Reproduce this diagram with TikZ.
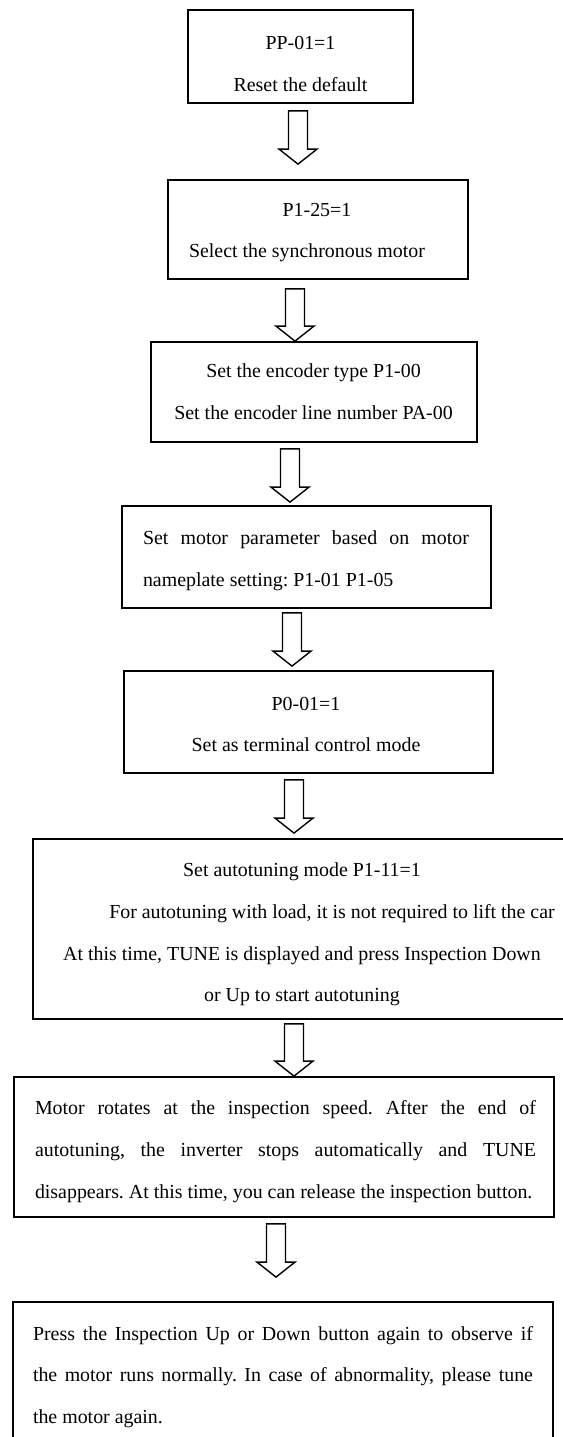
\documentclass[tikz,border=0pt]{standalone}
\usepackage{fontspec}
\setmainfont{Liberation Serif}
\usetikzlibrary{calc,fit}
\frenchspacing
\tolerance=9999
\hyphenpenalty=10000
\tikzset {
  x=0.5pt, y=-0.5pt,
  box/.style={draw, line width=0.9pt, inner sep=0pt},
  txt/.style={inner sep=0pt, font=\fontsize{9.95}{20.85}\selectfont},
  hollow/.style={draw, line width=0.7pt, line join=miter},
}
\newcommand{\blockdown}[5]{%
  \draw[hollow] ($(#1 |- #2.south)+(-9.5,#4)$) -- ($(#1 |- #3.north)+(-9.5,-15-#5)$)
    -- ++(-9.5,0) -- ($(#1 |- #3.north)+(0,-#5)$) -- ++(19,-15) -- ++(-9.5,0)
    -- ($(#1 |- #2.south)+(9.5,#4)$) -- cycle;}

\begin{document}
\begin{tikzpicture}
          \useasboundingbox (0,0) rectangle (563,1437);
          \coordinate (a1) at (298,0);
          \coordinate (a2) at (295,0);
          \coordinate (a3) at (290,0);
          \coordinate (a4) at (292,0);
          \coordinate (a5) at (294,0);
          \coordinate (a6) at (294,0);
          \coordinate (a7) at (276,0);
          \node[box, fit={(188,10) (413,103)}] (b1) {};
          \node[box, fit={(168,180) (468,279)}] (b2) {};
          \node[box, fit={(151,342) (477,442)}] (b3) {};
          \node[box, fit={(122,506) (491,608)}] (b4) {};
          \node[box, fit={(124,671) (493,773)}] (b5) {};
          \node[box, fit={(33,839) (564,1019)}] (b6) {};
          \node[box, fit={(14,1077) (554,1217)}] (b7) {};
          \node[box, fit={(13,1302) (553,1439)}] (b8) {};
          \node[txt, align=center] (t1) at (300.5,64) {PP-01=1\\Reset the default};
          \node[txt, align=center] (t2) at (317,232.5) {P1-25=1\\Select the synchronous motor\hspace*{10pt}};
          \node[txt, align=center] (t3) at (313.5,392) {Set the encoder type P1-00\\Set the encoder line number PA-00};
          \node[txt, text width=163pt, align=justify] (t4) at (306,561)
            {Set motor parameter based on motor\linebreak nameplate setting: P1-01 P1-05};
          \node[txt, align=center] (t5) at (306,724.5) {P0-01=1\\Set as terminal control mode};
          \node[txt, align=center] (t6) at (302,934.5) {Set autotuning mode P1-11=1\\
            \hspace*{30pt}For autotuning with load, it is not required to lift the car\\
            At this time, TUNE is displayed and press Inspection Down\\or Up to start autotuning};
          \node[txt, text width=250.5pt, align=justify] (t7) at (285.5,1151.5)
            {Motor rotates at the inspection speed. After the end of\linebreak autotuning, the inverter
            stops automatically and TUNE\linebreak disappears. At this time, you can release the inspection button.};
          \node[txt, text width=250pt, align=justify] (t8) at (283,1377)
            {Press the Inspection Up or Down button again to observe if\linebreak the motor runs normally.
            In case of abnormality, please tune\linebreak the motor again.};
          \blockdown{a1}{b1}{b2}{7}{15}
          \blockdown{a2}{b2}{b3}{9}{0}
          \blockdown{a3}{b3}{b4}{6}{3}
          \blockdown{a4}{b4}{b5}{4}{4}
          \blockdown{a5}{b5}{b6}{6}{5}
          \blockdown{a6}{b6}{b7}{4}{0}
          \blockdown{a7}{b7}{b8}{6}{24}
        \end{tikzpicture}
\end{document}
